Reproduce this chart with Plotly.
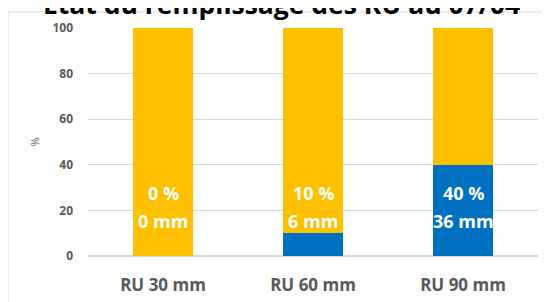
import plotly.graph_objects as go

categories = ["RU 30 mm", "RU 60 mm", "RU 90 mm"]
filled_pct = [0, 10, 40]
empty_pct = [100, 90, 60]
filled_mm = [0, 6, 36]
y_ticks = [0, 20, 40, 60, 80, 100]
title = "État du remplissage des RU au 07/04"

FONT = "Open Sans"
fig = go.Figure()
fig.add_trace(go.Bar(x=categories, y=filled_pct, marker=dict(color="#0070C0", line=dict(width=0)), name="rempli"))
fig.add_trace(go.Bar(x=categories, y=empty_pct, marker=dict(color="#FFC000", line=dict(width=0)), name="vide"))

lab_font = dict(family=FONT, size=18, color="white", weight="bold")
for c, p, mm in zip(categories, filled_pct, filled_mm):
    fig.add_annotation(x=c, y=27.5, text=f"{p} %", showarrow=False, font=lab_font,
                       xanchor="center", yanchor="middle")
    fig.add_annotation(x=c, y=15.3, text=f"{mm} mm", showarrow=False, font=lab_font,
                       xanchor="center", yanchor="middle")

fig.add_annotation(x=0.429, xref="paper", y=1.107, yref="paper", text=title, showarrow=False,
                   xanchor="center", yanchor="middle",
                   font=dict(family=FONT, size=26.5, color="black", weight="bold"))

fig.add_shape(type="rect", xref="paper", yref="paper", x0=-0.1778, x1=1.05, y0=-0.3, y1=1.0702,
              line=dict(color="#D9D9D9", width=1), layer="below")

fig.update_layout(
    barmode="stack", bargap=0.6, showlegend=False,
    width=550, height=302,
    margin=dict(l=80, r=20, t=20, b=54, autoexpand=False),
    paper_bgcolor="white", plot_bgcolor="white",
    font=dict(family=FONT),
)
fig.update_xaxes(tickfont=dict(family=FONT, size=17, color="#595959", weight="bold"), showline=False, ticks="",
                 automargin=False, ticklabelstandoff=17)
fig.update_yaxes(range=[0, 100], tickvals=y_ticks, gridcolor="#D9D9D9", gridwidth=1, zeroline=True,
                 zerolinecolor="#D9D9D9", tickfont=dict(family=FONT, size=12, color="#595959", weight="bold"),
                 title=dict(text="%", font=dict(family=FONT, size=11, color="#595959"), standoff=10), ticks="",
                 ticklabelstandoff=14, automargin=False)
fig.write_html("out.html")
